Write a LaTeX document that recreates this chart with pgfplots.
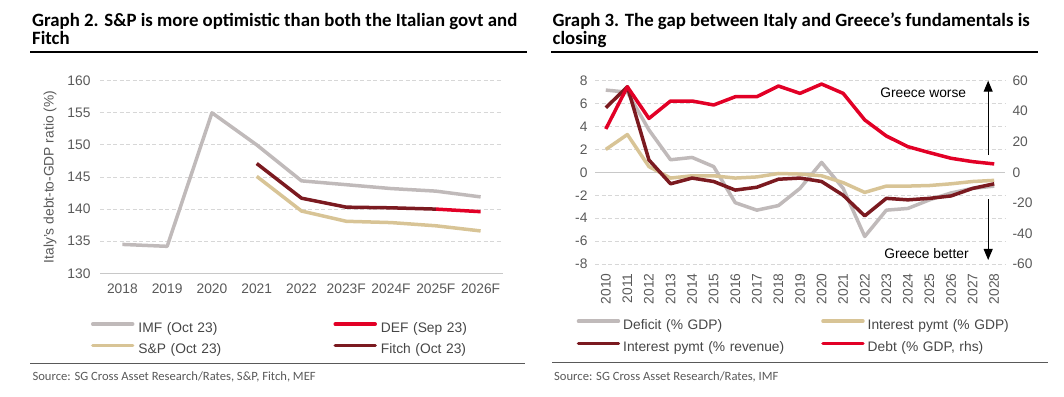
\documentclass[border=0pt]{standalone}
\usepackage{pgfplots}
\pgfplotsset{compat=1.18}
\usepackage{pgfplotstable}
\usepackage{fontspec}
\setmainfont{Liberation Sans}
\newfontfamily\titlefont{Carlito}
\usetikzlibrary{arrows.meta}
\definecolor{cgray}{RGB}{192,186,186}
\definecolor{ctan}{RGB}{216,196,150}
\definecolor{cdark}{RGB}{123,26,32}
\definecolor{cred}{RGB}{226,0,38}
\definecolor{ctick}{RGB}{89,89,89}
\definecolor{cleg}{RGB}{70,70,70}
\definecolor{cgrid}{RGB}{215,215,215}
\definecolor{czero}{RGB}{200,200,200}

% Graph 2 data (x index: 0=2018 ... 8=2026F)
\pgfplotstableread{
x y
0 134.5
1 134.2
2 155.0
3 150.0
4 144.4
5 143.8
6 143.2
7 142.8
8 141.9
}\imfdata
\pgfplotstableread{
x y
7 140.0
8 139.6
}\defdata
\pgfplotstableread{
x y
3 145.1
4 139.7
5 138.1
6 137.9
7 137.4
8 136.6
}\sapdata
\pgfplotstableread{
x y
3 147.1
4 141.7
5 140.3
6 140.2
7 140.0
}\fitchdata

% Graph 3 data (x index: 0=2010 ... 18=2028)
\pgfplotstableread{
x def igdp irev debt
0 7.18 2.0 5.64 28.4
1 7.0 3.3 7.47 56.0
2 3.7 0.5 1.08 35.3
3 1.1 -0.5 -1.0 46.7
4 1.3 -0.3 -0.5 46.7
5 0.5 -0.3 -0.8 44.1
6 -2.65 -0.5 -1.55 49.5
7 -3.3 -0.4 -1.3 49.5
8 -2.9 -0.1 -0.6 56.5
9 -1.4 -0.15 -0.5 51.7
10 0.87 -0.3 -0.8 57.8
11 -1.4 -0.9 -2.0 51.7
12 -5.6 -1.75 -3.8 34.3
13 -3.3 -1.2 -2.27 23.8
14 -3.15 -1.2 -2.4 16.8
15 -2.4 -1.15 -2.27 12.9
16 -1.8 -1.0 -2.06 9.2
17 -1.4 -0.8 -1.4 7.0
18 -1.2 -0.7 -1.0 5.5
}\greece

\pgfplotsset{
  base/.style={
    scale only axis,
    axis line style={draw=none},
    major tick length=0pt,
    tick style={draw=none},
    ticklabel style={font=\fontsize{13.8}{16}\selectfont, text=ctick},
    /pgf/number format/assume math mode=true,
    ymajorgrids,
    grid style={cgrid, line width=0.9pt, dash pattern=on 4pt off 2.5pt},
    every axis plot/.append style={line width=3.5pt, line join=round, no marks},
    legend cell align=left,
    legend image code/.code={\draw[##1, line width=3.5pt, line cap=round] (0pt,4.5pt)--(40pt,4.5pt);},
    clip=false,
  },
}

\begin{document}
\begin{tikzpicture}
\useasboundingbox (0,0) rectangle (1064pt,396pt);

% ---------- Titles ----------
\node[anchor=base west, inner sep=0pt, font=\titlefont\bfseries\fontsize{18.8}{22}\selectfont] at (32pt,369.3pt) {Graph 2. S\&P is more optimistic than both the Italian govt and};
\node[anchor=base west, inner sep=0pt, font=\titlefont\bfseries\fontsize{18.8}{22}\selectfont] at (32pt,351.7pt) {Fitch};
\node[anchor=base west, inner sep=0pt, font=\titlefont\bfseries\fontsize{18.8}{22}\selectfont] at (552.5pt,369.3pt) {Graph 3. The gap between Italy and Greece’s fundamentals is};
\node[anchor=base west, inner sep=0pt, font=\titlefont\bfseries\fontsize{18.8}{22}\selectfont] at (552.5pt,351.7pt) {closing};
\draw[line width=2pt] (30pt,343.7pt) -- (527pt,343.7pt);
\draw[line width=2pt] (551pt,343.7pt) -- (1038pt,343.7pt);

% ---------- Bottom rules and sources ----------
\draw[line width=0.7pt, color=ctick] (30pt,33pt) -- (525pt,33pt);
\draw[line width=0.7pt, color=ctick] (552pt,33.3pt) -- (1048pt,33.3pt);
\node[anchor=base west, inner sep=0pt, text=ctick, font=\titlefont\fontsize{12.6}{14}\selectfont] at (32.3pt,16pt) {Source: SG Cross Asset Research/Rates, S\&P, Fitch, MEF};
\node[anchor=base west, inner sep=0pt, text=ctick, font=\titlefont\fontsize{12.6}{14}\selectfont] at (554pt,16pt) {Source: SG Cross Asset Research/Rates, IMF};

% ---------- Graph 2 ----------
\begin{axis}[base,
  at={(100pt,122.7pt)}, anchor=south west,
  width=403pt, height=192.6pt,
  xmin=-0.5, xmax=8.5, ymin=130, ymax=160,
  ytick={135,140,...,160},
  extra y ticks={130},
  extra y tick style={ymajorgrids, grid style={solid, czero, line width=1pt}},
  xtick={0,...,8},
  xticklabels={2018,2019,2020,2021,2022,2023F,2024F,2025F,2026F},
  xticklabel style={yshift=-7pt},
  yticklabel style={xshift=-6pt},
  ylabel={Italy's debt-to-GDP ratio (\%)},
  ylabel style={at={(axis description cs:-0.124,0.5)}, anchor=center, font=\fontsize{13.8}{16}\selectfont, text=ctick},
  legend columns=2,
  legend style={at={(axis description cs:-0.0224,-0.2544)}, anchor=north west,
    draw=none, fill=none, inner sep=0pt, outer sep=0pt,
    font=\fontsize{13.8}{16}\selectfont, text=cleg,
    row sep=9pt, column sep=4pt,
    nodes={inner sep=0pt, text height=9.5pt, text depth=2.5pt, text width=150pt, align=left},
    /tikz/every even column/.append style={column sep=45pt}},
]
\addplot[cgray] table[x=x,y=y] {\imfdata};
\addlegendentry{IMF (Oct 23)}
\addplot[cred] table[x=x,y=y] {\defdata};
\addlegendentry{DEF (Sep 23)}
\addplot[ctan] table[x=x,y=y] {\sapdata};
\addlegendentry{S\&P (Oct 23)}
\addplot[cdark] table[x=x,y=y] {\fitchdata};
\addlegendentry{Fitch (Oct 23)}
\end{axis}

% ---------- Graph 3 ----------
\begin{axis}[base,
  at={(595pt,132pt)}, anchor=south west,
  width=410pt, height=183.3pt,
  xmin=-0.5, xmax=18.5, ymin=-8, ymax=8,
  ytick={-8,-6,-4,-2,2,4,6,8},
  extra y ticks={0},
  extra y tick style={ymajorgrids, grid style={solid, czero, line width=1pt}},
  xtick={0,...,18},
  xticklabels={2010,2011,2012,2013,2014,2015,2016,2017,2018,2019,2020,2021,2022,2023,2024,2025,2026,2027,2028},
  xticklabel style={rotate=90, anchor=east, xshift=-6pt},
  yticklabel style={xshift=-4pt},
  legend columns=2,
  legend style={at={(axis description cs:-0.0446,-0.3017)}, anchor=north west,
    draw=none, fill=none, inner sep=0pt, outer sep=0pt,
    font=\fontsize{13.8}{16}\selectfont, text=cleg,
    row sep=10.4pt, column sep=3pt,
    nodes={inner sep=0pt, text height=9.5pt, text depth=2.5pt, text width=190pt, align=left},
    /tikz/every even column/.append style={column sep=8pt}},
]
\addplot[cgray] table[x=x,y=def] {\greece};
\addlegendentry{Deficit (\% GDP)}
\addplot[ctan] table[x=x,y=igdp] {\greece};
\addlegendentry{Interest pymt (\% GDP)}
\addplot[cdark] table[x=x,y=irev] {\greece};
\addlegendentry{Interest pymt (\% revenue)}
\addlegendimage{cred}
\addlegendentry{Debt (\% GDP, rhs)}
\node[font=\fontsize{13.8}{16}\selectfont] at (axis cs:14.71,6.98) {Greece worse};
\node[font=\fontsize{13.8}{16}\selectfont] at (axis cs:14.86,-7.06) {Greece better};
\draw[line width=1pt, -{Triangle[width=9pt,length=11pt]}] (axis cs:17.72,1.5) -- (axis cs:17.72,8);
\draw[line width=1pt, -{Triangle[width=9pt,length=11pt]}] (axis cs:17.72,-2.35) -- (axis cs:17.72,-7.65);
\end{axis}
\begin{axis}[base,
  at={(595pt,132pt)}, anchor=south west,
  width=410pt, height=183.3pt,
  xmin=-0.5, xmax=18.5, ymin=-60, ymax=60,
  ymajorgrids=false,
  axis x line=none,
  axis y line*=right,
  ytick={-60,-40,...,60},
  yticklabel style={xshift=4pt},
]
\addplot[cred] table[x=x,y=debt] {\greece};
\end{axis}
\end{tikzpicture}
\end{document}
